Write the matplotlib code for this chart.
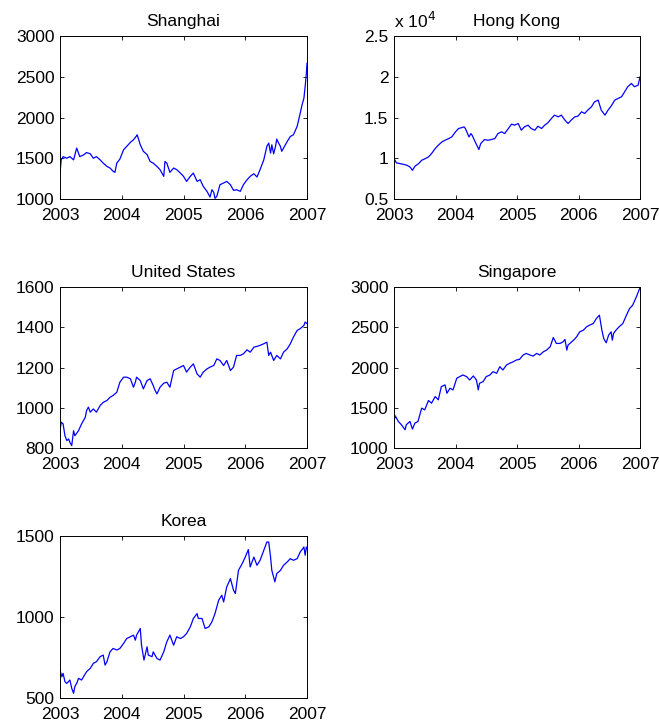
import numpy as np
import matplotlib
matplotlib.use('Agg')
import matplotlib.pyplot as plt
from matplotlib.ticker import FormatStrFormatter

plt.rcParams['font.family'] = ['Liberation Sans', 'DejaVu Sans']

# index levels as (year, close) pairs
shanghai = [(2003.0, 1320), (2003.02, 1480), (2003.05, 1520), (2003.11, 1500), (2003.16, 1520),
            (2003.22, 1480), (2003.27, 1625), (2003.32, 1520), (2003.38, 1540), (2003.43, 1570),
            (2003.49, 1555), (2003.54, 1500), (2003.59, 1520), (2003.65, 1480), (2003.70, 1440),
            (2003.76, 1400), (2003.81, 1380), (2003.86, 1340), (2003.89, 1327), (2003.92, 1440),
            (2003.97, 1490), (2004.03, 1605), (2004.08, 1645), (2004.14, 1695), (2004.19, 1727),
            (2004.24, 1775), (2004.25, 1788), (2004.30, 1665), (2004.35, 1585), (2004.41, 1545),
            (2004.46, 1460), (2004.51, 1440), (2004.57, 1400), (2004.62, 1360), (2004.68, 1278),
            (2004.70, 1460), (2004.73, 1440), (2004.78, 1327), (2004.84, 1380), (2004.89, 1360),
            (2004.95, 1318), (2005.00, 1278), (2005.05, 1216), (2005.11, 1278), (2005.16, 1318),
            (2005.22, 1216), (2005.27, 1237), (2005.32, 1155), (2005.38, 1094), (2005.43, 1024),
            (2005.46, 1114), (2005.49, 1082), (2005.51, 1008), (2005.54, 1033), (2005.59, 1175),
            (2005.65, 1196), (2005.70, 1216), (2005.76, 1175), (2005.81, 1106), (2005.86, 1114),
            (2005.92, 1094), (2005.97, 1175), (2006.03, 1237), (2006.08, 1278), (2006.14, 1310),
            (2006.19, 1270), (2006.24, 1360), (2006.30, 1480), (2006.35, 1645), (2006.38, 1686),
            (2006.41, 1563), (2006.43, 1665), (2006.46, 1555), (2006.49, 1645), (2006.51, 1735),
            (2006.54, 1686), (2006.57, 1645), (2006.59, 1585), (2006.62, 1625), (2006.68, 1706),
            (2006.73, 1767), (2006.78, 1788), (2006.84, 1890), (2006.89, 2053), (2006.92, 2155),
            (2006.95, 2237), (2006.97, 2380), (2006.99, 2543), (2007.0, 2665)]

hongkong = [(2003.0, 0.996), (2003.04, 0.943), (2003.10, 0.934), (2003.15, 0.926),
            (2003.21, 0.914), (2003.26, 0.893), (2003.30, 0.852), (2003.34, 0.902),
            (2003.40, 0.934), (2003.45, 0.975), (2003.51, 0.996), (2003.56, 1.016),
            (2003.61, 1.057), (2003.67, 1.119), (2003.72, 1.160), (2003.78, 1.201),
            (2003.83, 1.221), (2003.89, 1.242), (2003.94, 1.262), (2004.00, 1.324),
            (2004.05, 1.365), (2004.11, 1.377), (2004.14, 1.385), (2004.16, 1.365),
            (2004.22, 1.262), (2004.25, 1.303), (2004.27, 1.283), (2004.32, 1.201),
            (2004.38, 1.107), (2004.41, 1.180), (2004.47, 1.229), (2004.53, 1.221),
            (2004.58, 1.229), (2004.64, 1.242), (2004.69, 1.303), (2004.75, 1.324),
            (2004.80, 1.303), (2004.86, 1.365), (2004.91, 1.418), (2004.96, 1.406),
            (2005.02, 1.426), (2005.07, 1.344), (2005.12, 1.385), (2005.18, 1.406),
            (2005.23, 1.365), (2005.29, 1.344), (2005.34, 1.393), (2005.40, 1.365),
            (2005.45, 1.406), (2005.50, 1.434), (2005.56, 1.488), (2005.61, 1.529),
            (2005.67, 1.508), (2005.72, 1.529), (2005.78, 1.467), (2005.83, 1.426),
            (2005.88, 1.467), (2005.94, 1.508), (2005.99, 1.516), (2006.05, 1.570),
            (2006.10, 1.549), (2006.15, 1.590), (2006.21, 1.631), (2006.26, 1.692),
            (2006.32, 1.713), (2006.37, 1.590), (2006.43, 1.529), (2006.48, 1.590),
            (2006.53, 1.639), (2006.59, 1.713), (2006.64, 1.733), (2006.70, 1.754),
            (2006.75, 1.815), (2006.80, 1.877), (2006.86, 1.918), (2006.91, 1.877),
            (2006.97, 1.897), (2007.0, 1.999)]

united_states = [(2003.0, 886), (2003.02, 928), (2003.05, 920), (2003.08, 861), (2003.11, 837),
                 (2003.14, 845), (2003.16, 828), (2003.19, 812), (2003.22, 886), (2003.24, 861),
                 (2003.30, 886), (2003.35, 920), (2003.41, 953), (2003.43, 986), (2003.46, 1003),
                 (2003.49, 978), (2003.54, 994), (2003.59, 978), (2003.65, 1011), (2003.70, 1027),
                 (2003.76, 1036), (2003.81, 1052), (2003.86, 1061), (2003.92, 1077),
                 (2003.97, 1127), (2004.03, 1152), (2004.08, 1152), (2004.14, 1144),
                 (2004.19, 1102), (2004.22, 1127), (2004.24, 1152), (2004.30, 1135),
                 (2004.35, 1094), (2004.41, 1135), (2004.46, 1144), (2004.51, 1110),
                 (2004.54, 1086), (2004.57, 1069), (2004.62, 1102), (2004.68, 1122),
                 (2004.73, 1127), (2004.78, 1102), (2004.84, 1185), (2004.89, 1193),
                 (2004.95, 1202), (2005.00, 1210), (2005.05, 1177), (2005.11, 1202),
                 (2005.16, 1218), (2005.22, 1168), (2005.27, 1152), (2005.32, 1177),
                 (2005.38, 1193), (2005.43, 1202), (2005.49, 1210), (2005.54, 1243),
                 (2005.59, 1235), (2005.65, 1210), (2005.70, 1235), (2005.76, 1185),
                 (2005.81, 1202), (2005.86, 1260), (2005.92, 1260), (2005.97, 1268),
                 (2006.03, 1288), (2006.08, 1276), (2006.14, 1301), (2006.19, 1305),
                 (2006.24, 1310), (2006.30, 1318), (2006.35, 1326), (2006.38, 1260),
                 (2006.41, 1276), (2006.46, 1235), (2006.51, 1260), (2006.57, 1243),
                 (2006.62, 1276), (2006.68, 1293), (2006.73, 1318), (2006.78, 1351),
                 (2006.84, 1384), (2006.89, 1393), (2006.95, 1409), (2006.97, 1426),
                 (2007.0, 1418)]

singapore = [(2003.0, 1330), (2003.02, 1400), (2003.07, 1330), (2003.12, 1289), (2003.18, 1227),
             (2003.20, 1289), (2003.26, 1330), (2003.30, 1235), (2003.34, 1309), (2003.39, 1330),
             (2003.45, 1495), (2003.50, 1474), (2003.56, 1590), (2003.61, 1557), (2003.67, 1639),
             (2003.72, 1598), (2003.77, 1763), (2003.83, 1784), (2003.86, 1680), (2003.91, 1742),
             (2003.96, 1722), (2004.02, 1866), (2004.07, 1887), (2004.12, 1907), (2004.18, 1887),
             (2004.23, 1845), (2004.29, 1895), (2004.34, 1845), (2004.37, 1722), (2004.39, 1804),
             (2004.45, 1825), (2004.50, 1887), (2004.56, 1907), (2004.61, 1948), (2004.67, 1928),
             (2004.72, 2010), (2004.77, 1969), (2004.83, 2031), (2004.88, 2052), (2004.94, 2072),
             (2004.99, 2093), (2005.04, 2101), (2005.10, 2155), (2005.15, 2175), (2005.21, 2155),
             (2005.26, 2142), (2005.32, 2175), (2005.37, 2155), (2005.43, 2196), (2005.48, 2216),
             (2005.54, 2258), (2005.59, 2373), (2005.64, 2299), (2005.70, 2299), (2005.75, 2320),
             (2005.78, 2349), (2005.81, 2216), (2005.83, 2278), (2005.86, 2299), (2005.92, 2340),
             (2005.97, 2381), (2006.02, 2443), (2006.08, 2464), (2006.13, 2505), (2006.18, 2526),
             (2006.24, 2546), (2006.29, 2608), (2006.34, 2650), (2006.38, 2464), (2006.41, 2361),
             (2006.45, 2307), (2006.49, 2402), (2006.53, 2443), (2006.55, 2340), (2006.57, 2423),
             (2006.61, 2464), (2006.66, 2505), (2006.72, 2546), (2006.78, 2650), (2006.83, 2732),
             (2006.88, 2773), (2006.94, 2876), (2007.0, 2992)]

korea = [(2003.0, 672), (2003.03, 631), (2003.05, 652), (2003.08, 601), (2003.11, 590),
         (2003.16, 611), (2003.19, 560), (2003.22, 529), (2003.24, 570), (2003.27, 590),
         (2003.30, 621), (2003.35, 611), (2003.38, 631), (2003.43, 662), (2003.49, 683),
         (2003.54, 714), (2003.59, 724), (2003.65, 755), (2003.70, 765), (2003.73, 703),
         (2003.76, 724), (2003.81, 785), (2003.86, 806), (2003.92, 796), (2003.97, 806),
         (2004.03, 837), (2004.08, 867), (2004.14, 878), (2004.19, 888), (2004.22, 857),
         (2004.24, 888), (2004.30, 929), (2004.32, 826), (2004.36, 734), (2004.41, 816),
         (2004.43, 765), (2004.49, 755), (2004.51, 785), (2004.57, 744), (2004.62, 734),
         (2004.68, 785), (2004.73, 847), (2004.78, 888), (2004.84, 826), (2004.89, 878),
         (2004.95, 867), (2005.00, 878), (2005.05, 898), (2005.11, 939), (2005.16, 991),
         (2005.22, 1021), (2005.24, 991), (2005.30, 991), (2005.35, 929), (2005.41, 939),
         (2005.46, 970), (2005.51, 1021), (2005.57, 1104), (2005.62, 1134), (2005.65, 1093),
         (2005.70, 1186), (2005.76, 1237), (2005.81, 1165), (2005.84, 1145), (2005.89, 1288),
         (2005.95, 1329), (2006.00, 1370), (2006.05, 1416), (2006.08, 1309), (2006.14, 1370),
         (2006.19, 1319), (2006.24, 1350), (2006.30, 1411), (2006.35, 1463), (2006.38, 1463),
         (2006.41, 1370), (2006.43, 1288), (2006.48, 1217), (2006.51, 1268), (2006.57, 1288),
         (2006.62, 1319), (2006.68, 1340), (2006.73, 1360), (2006.78, 1350), (2006.84, 1360),
         (2006.89, 1401), (2006.95, 1432), (2006.97, 1381), (2006.99, 1432), (2007.0, 1422)]

panels = [
    ('Shanghai', shanghai, (1000, 3000), [1000, 1500, 2000, 2500, 3000]),
    ('Hong Kong', hongkong, (0.5, 2.5), [0.5, 1, 1.5, 2, 2.5]),
    ('United States', united_states, (800, 1600), [800, 1000, 1200, 1400, 1600]),
    ('Singapore', singapore, (1000, 3000), [1000, 1500, 2000, 2500, 3000]),
    ('Korea', korea, (500, 1500), [500, 1000, 1500]),
]

W, H = 659, 724
fig = plt.figure(figsize=(W / 100, H / 100), dpi=100)

# axes boxes in pixels: left, top, right, bottom
boxes = [(60, 36, 307, 199), (394, 36, 640, 199),
         (60, 287, 307, 448), (394, 287, 640, 448),
         (60, 536, 307, 698)]

for (name, series, ylim, yt), (l, tp, r, b) in zip(panels, boxes):
    t, v = np.array(series).T
    ax = fig.add_axes([l / W, 1 - b / H, (r - l) / W, (b - tp) / H])
    ax.plot(t, v, color='#0000ff', lw=0.9)
    ax.set_xlim(2003, 2007)
    ax.set_ylim(*ylim)
    ax.set_xticks([2003, 2004, 2005, 2006, 2007])
    ax.set_yticks(yt)
    ax.yaxis.set_major_formatter(FormatStrFormatter('%g'))
    ax.tick_params(direction='in', length=3, width=0.6, top=True, right=True,
                   labelsize=12.5)
    ax.tick_params(axis='x', pad=6.5)
    ax.tick_params(axis='y', pad=4)
    for s in ax.spines.values():
        s.set_linewidth(0.7)
    ax.set_title(name, fontsize=12.5, pad=7)
    if name == 'Hong Kong':
        ax.text(0, 1.03, r'x 10$^{4}$', transform=ax.transAxes, fontsize=12.5,
                ha='left', va='bottom')

fig.savefig('out.png', dpi=100)
